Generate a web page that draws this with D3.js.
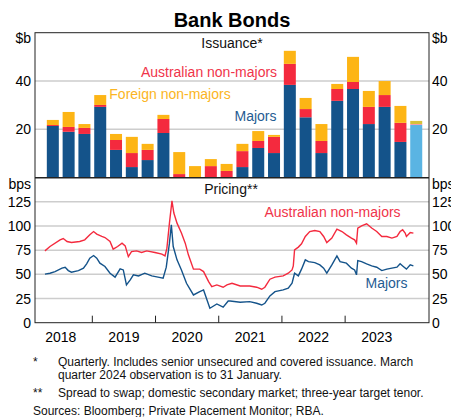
<!DOCTYPE html>
<html>
<head>
<meta charset="utf-8">
<script src="https://cdn.jsdelivr.net/npm/d3@7"></script>
<style>
  body { margin: 0; background: #fff; }
  svg { font-family: "Liberation Sans", Arial, sans-serif; }
</style>
</head>
<body>
<svg id="chart" width="451" height="417"></svg>
<script>
// ---- data -------------------------------------------------------------
// issuance, $b, quarterly (2018 Q2 .. 2024 Q1, last quarter partial)
var quarters = ["2018Q2","2018Q3","2018Q4","2019Q1","2019Q2","2019Q3","2019Q4","2020Q1",
                "2020Q2","2020Q3","2020Q4","2021Q1","2021Q2","2021Q3","2021Q4","2022Q1",
                "2022Q2","2022Q3","2022Q4","2023Q1","2023Q2","2023Q3","2023Q4","2024Q1"];
var majors      = [21.4,19.0,18.1,29.3,11.5,4.4,7.3,18.5,0,0,0,0,4.4,12.3,10.2,38.4,25.0,10.2,31.8,36.7,22.2,29.3,14.8,21.8];
var ausNonMajors = [0.4,2.0,2.5,0.8,4.1,5.8,4.2,5.8,1.5,0,4.8,2.8,6.6,2.9,6.7,8.7,3.4,5.0,4.9,2.9,7.1,4.9,7.9,0.4];
var foreignNonMajors = [2.1,6.2,1.6,4.1,2.5,6.7,2.5,1.7,9.1,4.8,2.9,2.9,3.0,4.1,0.8,5.4,4.6,7.0,2.1,10.4,6.6,5.8,7.0,1.3];

// pricing, bps, [decimal year, spread]
var ausPricing = [
  [2018.25,74.3],[2018.33,78.8],[2018.49,85.7],[2018.54,87.1],[2018.60,84.0],[2018.67,83.0],
  [2018.80,84.0],[2018.88,85.7],[2018.96,90.9],[2019.02,94.3],[2019.07,91.6],[2019.15,89.2],
  [2019.20,88.1],[2019.28,84.0],[2019.33,76.1],[2019.40,78.8],[2019.47,82.3],[2019.52,79.5],
  [2019.57,68.4],[2019.62,73.6],[2019.70,74.3],[2019.78,72.6],[2019.86,74.3],[2019.99,72.6],
  [2020.10,70.9],[2020.15,69.1],[2020.18,77.1],[2020.22,103],[2020.26,126],[2020.29,113.4],
  [2020.34,103],[2020.41,92.7],[2020.47,82.3],[2020.52,70.2],[2020.60,55.4],[2020.70,55.4],
  [2020.76,52.9],[2020.84,42.5],[2020.89,37.3],[2020.97,39.1],[2021.07,36.7],[2021.13,39.1],
  [2021.21,40.8],[2021.34,38.0],[2021.49,38.0],[2021.60,36.7],[2021.68,34.6],[2021.73,36.7],
  [2021.81,45.0],[2021.89,47.1],[2022.02,48.4],[2022.10,51.2],[2022.16,54.6],[2022.18,58.8],
  [2022.20,75.4],[2022.26,78.2],[2022.31,81.6],[2022.37,89.2],[2022.44,94.3],[2022.52,95.4],
  [2022.60,94.3],[2022.66,89.2],[2022.71,82.9],[2022.79,87.5],[2022.87,96.8],[2022.95,94.3],
  [2023.02,90.9],[2023.10,87.5],[2023.15,85.7],[2023.18,82.3],[2023.20,97.9],[2023.26,100.2],
  [2023.34,102.3],[2023.42,97.9],[2023.50,94.3],[2023.58,89.2],[2023.66,89.2],[2023.74,87.5],
  [2023.82,89.2],[2023.87,94.3],[2023.91,96.1],[2023.95,92.7],[2023.97,89.2],[2024.03,93.3],
  [2024.08,92.7]
];
var majorsPricing = [
  [2018.25,50.2],[2018.33,51.2],[2018.41,52.9],[2018.52,56.4],[2018.57,57.4],[2018.62,53.9],
  [2018.67,52.2],[2018.78,53.9],[2018.86,56.4],[2018.91,60.9],[2018.96,66.8],[2019.02,69.5],
  [2019.07,66.8],[2019.12,61.6],[2019.20,58.1],[2019.28,51.2],[2019.36,47.1],[2019.44,55.7],
  [2019.49,54.6],[2019.54,39.1],[2019.60,44.3],[2019.65,49.5],[2019.73,48.4],[2019.83,51.2],
  [2019.94,48.4],[2020.04,47.1],[2020.12,46.0],[2020.17,57.4],[2020.22,82.3],[2020.25,101.3],
  [2020.28,78.8],[2020.34,65.0],[2020.41,54.6],[2020.49,40.8],[2020.60,28.7],[2020.70,32.1],
  [2020.76,33.9],[2020.86,14.9],[2020.97,19.4],[2021.07,16.0],[2021.15,22.5],[2021.18,22.5],
  [2021.34,21.1],[2021.49,21.8],[2021.60,20.1],[2021.68,18.3],[2021.73,20.1],[2021.81,27.7],
  [2021.89,32.1],[2022.02,33.9],[2022.10,35.7],[2022.16,40.8],[2022.20,51.2],[2022.26,48.4],
  [2022.31,55.4],[2022.37,65.0],[2022.42,63.2],[2022.52,62.2],[2022.60,59.8],[2022.66,56.4],
  [2022.71,51.2],[2022.79,59.8],[2022.87,69.1],[2022.92,63.2],[2023.02,61.6],[2023.10,56.4],
  [2023.15,54.6],[2023.18,49.5],[2023.20,64.3],[2023.26,63.2],[2023.34,60.9],[2023.42,58.8],
  [2023.50,57.4],[2023.58,53.9],[2023.66,55.4],[2023.74,56.4],[2023.82,57.4],[2023.87,60.9],
  [2023.92,58.1],[2023.97,55.4],[2024.03,59.8],[2024.08,58.8]
];

var years = [2018, 2019, 2020, 2021, 2022, 2023];
var issuanceTicks = [20, 40];
var pricingTicks = [0, 25, 50, 75, 100, 125];

// ---- layout -----------------------------------------------------------
var left = 35, right = 429, top1 = 32.7, mid = 177.7, bottom = 322.7;
var colors = {maj: "#14538a", aus: "#f42a3e", frn: "#fdb515"};
var lightColors = {maj: "#5ab4e3", aus: "#f49bb0", frn: "#d6c23a"};

var svg = d3.select("#chart");

var x = d3.scaleLinear().domain([2018.093, 2024.327]).range([left, right]);
var yTop = d3.scaleLinear().domain([0, 60]).range([mid, top1]);
var yBot = d3.scaleLinear().domain([0, 150]).range([bottom, mid]);

function quarterMid(q) {
  return +q.slice(0, 4) + (+q.slice(5) - 0.5) / 4;
}

// title
svg.append("text").attr("x", 232).attr("y", 27).attr("text-anchor", "middle")
  .attr("font-size", 20).attr("font-weight", "bold").text("Bank Bonds");

// gridlines
svg.append("g").selectAll("line").data(issuanceTicks).enter().append("line")
  .attr("x1", left).attr("x2", right)
  .attr("y1", function(d) { return yTop(d); }).attr("y2", function(d) { return yTop(d); })
  .attr("stroke", "#cdcdcd").attr("stroke-width", 1.5);
svg.append("g").selectAll("line").data(pricingTicks.slice(1)).enter().append("line")
  .attr("x1", left).attr("x2", right)
  .attr("y1", function(d) { return yBot(d); }).attr("y2", function(d) { return yBot(d); })
  .attr("stroke", "#cdcdcd").attr("stroke-width", 1.5);

// ---- issuance bars ----------------------------------------------------
var table = quarters.map(function(q, i) {
  return {q: q, maj: majors[i], aus: ausNonMajors[i], frn: foreignNonMajors[i], last: i === quarters.length - 1};
});
var stack = d3.stack().keys(["maj", "aus", "frn"]);
var series = stack(table);
var bw = 12;

svg.append("g").selectAll("g").data(series).enter().append("g")
  .each(function(s) {
    d3.select(this).selectAll("rect").data(s).enter().append("rect")
      .attr("x", function(d) { return x(quarterMid(d.data.q)) - bw / 2; })
      .attr("width", bw)
      .attr("y", function(d) { return yTop(d[1]); })
      .attr("height", function(d) { return yTop(d[0]) - yTop(d[1]); })
      .attr("fill", function(d) { return d.data.last ? lightColors[s.key] : colors[s.key]; });
  });

// ---- pricing lines ----------------------------------------------------
var line = d3.line()
  .x(function(d) { return x(d[0]); })
  .y(function(d) { return yBot(d[1]); });

svg.append("path").datum(ausPricing).attr("d", line)
  .attr("fill", "none").attr("stroke", "#f42a3e").attr("stroke-width", 1.4);
svg.append("path").datum(majorsPricing).attr("d", line)
  .attr("fill", "none").attr("stroke", "#14538a").attr("stroke-width", 1.4);

// ---- frames -----------------------------------------------------------
svg.append("rect").attr("x", left).attr("y", top1).attr("width", right - left).attr("height", bottom - top1)
  .attr("fill", "none").attr("stroke", "#222").attr("stroke-width", 1);
svg.append("line").attr("x1", left).attr("x2", right).attr("y1", mid).attr("y2", mid)
  .attr("stroke", "#222").attr("stroke-width", 1.5);

// year ticks along the bottom
svg.append("g").selectAll("line").data(years.slice(1)).enter().append("line")
  .attr("x1", function(d) { return x(d); }).attr("x2", function(d) { return x(d); })
  .attr("y1", bottom).attr("y2", bottom - 7)
  .attr("stroke", "#222").attr("stroke-width", 1);
svg.append("g").selectAll("text").data(years).enter().append("text")
  .attr("x", function(d) { return x(d + 0.5); }).attr("y", 342)
  .attr("text-anchor", "middle").attr("font-size", 14).text(function(d) { return d; });

// y labels, both sides
function yLabels(ticks, scale, unit, unitY) {
  [[31, "end"], [432, "start"]].forEach(function(side) {
    var g = svg.append("g").attr("font-size", 14).attr("text-anchor", side[1]);
    g.selectAll("text").data(ticks).enter().append("text")
      .attr("x", side[0]).attr("y", function(d) { return scale(d) + 5; })
      .text(function(d) { return d; });
    g.append("text").attr("x", side[0]).attr("y", unitY).text(unit);
  });
}
yLabels(issuanceTicks, yTop, "$b", 43);
yLabels(pricingTicks, yBot, "bps", 189);

// panel titles and series labels
function label(txt, xx, yy, fill) {
  svg.append("text").attr("x", xx).attr("y", yy).attr("text-anchor", "middle")
    .attr("font-size", 14).attr("fill", fill).text(txt);
}
label("Issuance*", 232, 48, "#111");
label("Pricing**", 231, 194, "#111");
label("Australian non-majors", 209, 77, "#f0344a");
label("Foreign non-majors", 170, 99, "#fbb523");
label("Majors", 255.5, 121, "#1f5c92");
label("Australian non-majors", 332.5, 217, "#f0344a");
label("Majors", 386.5, 288, "#1f5c92");

// footnotes
var notes = svg.append("g").attr("font-size", 12).attr("fill", "#111");
notes.append("text").attr("x", 33).attr("y", 366).text("*");
notes.append("text").attr("x", 58).attr("y", 366).text("Quarterly. Includes senior unsecured and covered issuance. March");
notes.append("text").attr("x", 58).attr("y", 379).text("quarter 2024 observation is to 31 January.");
notes.append("text").attr("x", 33).attr("y", 397).text("**");
notes.append("text").attr("x", 58).attr("y", 397).text("Spread to swap; domestic secondary market; three-year target tenor.");
notes.append("text").attr("x", 33).attr("y", 415).text("Sources: Bloomberg; Private Placement Monitor; RBA.");
</script>
</body>
</html>
